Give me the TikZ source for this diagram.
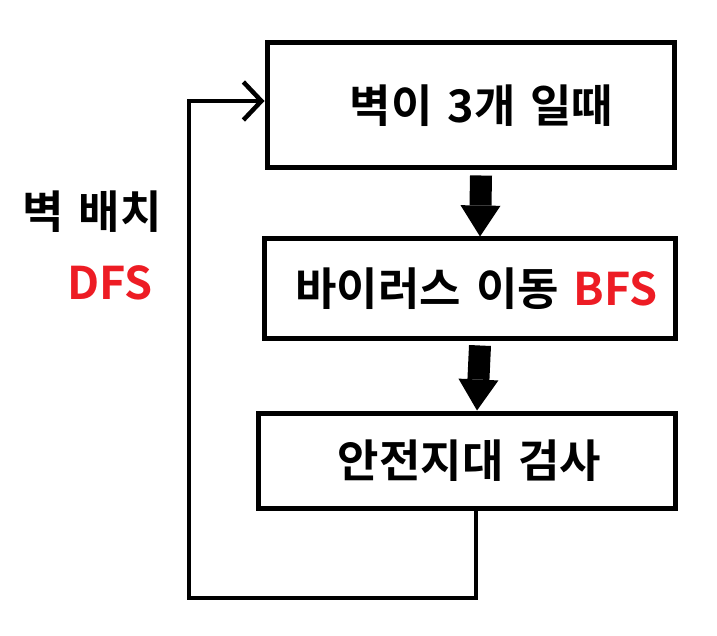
\documentclass[tikz,border=0pt]{standalone}
\usepackage{fontspec}
\newfontfamily\krfont{Noto Sans CJK KR Bold}
\newcommand\krbig{\krfont\fontsize{45}{50}\selectfont\spaceskip=15pt\relax}
\usetikzlibrary{arrows.meta}
\definecolor{paintred}{RGB}{237,28,36}
\begin{document}
\begin{tikzpicture}[x=1pt,y=-1pt,
		box/.style={draw,line width=5pt,inner sep=0pt,font=\krbig},
		bigarrow/.style={line width=22pt,line cap=butt,-{Triangle[length=31pt,width=40pt,line width=0pt,round=false]}},
		loopline/.style={line width=4.5pt,line cap=round,line join=miter},
		lbl/.style={font=\krbig,inner sep=0pt}]
	\useasboundingbox (0,0) rectangle (717,636);
	\def\ax{10.5} % Dịch mũi tên sang phải
	\node[box,minimum width=407pt,minimum height=125pt] (wall) at (470.5,105.5) {\hspace*{22pt}\raisebox{-9pt}{벽이 3개 일때}};
	\node[box,minimum width=411pt,minimum height=99pt] (virus) at (469.5,288.5) {\hspace*{14pt}\raisebox{-5pt}{바이러스 이동 \textcolor{paintred}{BFS}}};
	\node[box,minimum width=417pt,minimum height=95pt] (safe) at (466.5,460.5) {\hspace*{6pt}\raisebox{-1pt}{안전지대 검사}};
	\draw[bigarrow] ([xshift=\ax pt,yshift=-5pt]wall.south) -- ([xshift=\ax pt]virus.north);
	\draw[bigarrow] ([xshift=\ax pt,yshift=-5pt]virus.south) -- ([xshift=\ax pt]safe.north);
	\coordinate (bl) at (189,598);
	\coordinate (tl) at (189,101);
	\draw[loopline,-{Straight Barb[length=18pt,width=38pt]}] ([xshift=9.5pt]safe.south) |- (bl) -- (tl) -- (tl -| wall.west);
	\node[lbl] (place) at (92,212) {벽 배치};
	\node[lbl,text=paintred] (dfs) at (110,283) {DFS};
\end{tikzpicture}
\end{document}
